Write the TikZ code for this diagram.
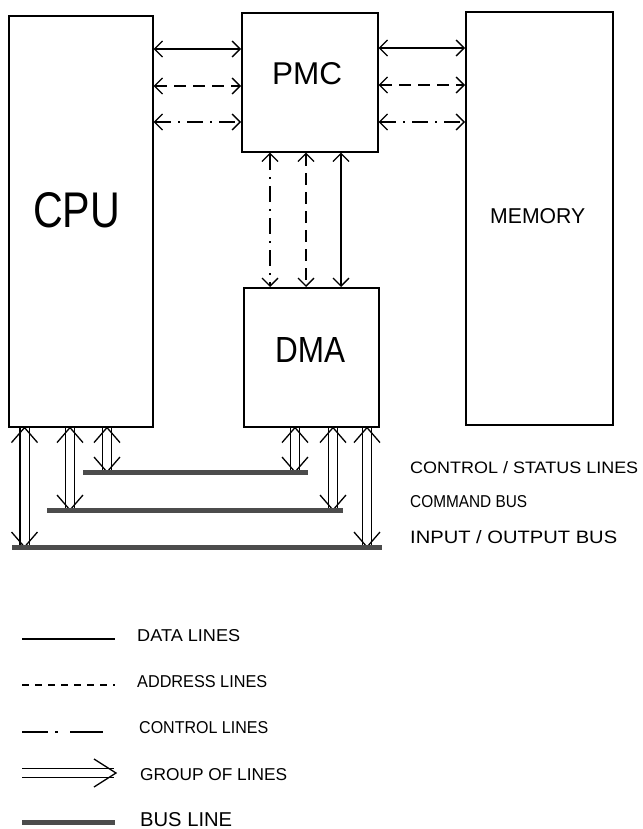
\documentclass[tikz,border=0pt]{standalone}
\usepackage{fontspec}
\setmainfont{Liberation Sans}
\usepackage{graphicx}
\usetikzlibrary{arrows.meta,calc}
\newcommand{\fitlbl}[3]{\resizebox{#1pt}{#2pt}{#3}}
\newcommand{\grouparrow}[2]{%
  \draw[grp] (#1) -- (#2);
  \draw[chev] ($(#1)+(-13,15)$) -- (#1) -- ($(#1)+(13,15)$);
  \draw[chev] ($(#2)+(-13,-15)$) -- (#2) -- ($(#2)+(13,-15)$);
}
\begin{document}
\begin{tikzpicture}[x=1pt,y=-1pt,
  box/.style={draw, line width=1.6pt, inner sep=0pt, anchor=north west},
  lbl/.style={inner sep=0pt, anchor=base west},
  tip/.style={{Straight Barb[length=8pt,width=16pt]}-{Straight Barb[length=8pt,width=16pt]}},
  dataline/.style={tip, line width=1.3pt},
  addrline/.style={tip, line width=1.3pt, dash pattern=on 12pt off 7pt},
  ctrlline/.style={tip, line width=1.3pt, dash pattern=on 16pt off 7pt on 2pt off 7pt},
  busline/.style={line width=5pt, black!70},
  grp/.style={double, double distance=8pt, line width=1.3pt},
  chev/.style={line width=1.3pt}
]
\useasboundingbox (0,0) rectangle (642,829);

% boxes
\node[box, minimum width=144pt, minimum height=411pt] (cpu) at (8,15) {};
\node[box, minimum width=136pt, minimum height=139pt] (pmc) at (241,12) {};
\node[box, minimum width=135pt, minimum height=139pt] (dma) at (243,287) {};
\node[box, minimum width=147pt, minimum height=413pt] (mem) at (465,11) {};

% box labels
\node[lbl] (cpulbl) at (33,227) {\fitlbl{87}{35}{CPU}};
\node[lbl] (pmclbl) at (272,85) {\fitlbl{70}{22}{PMC}};
\node[lbl] (dmalbl) at (275,362) {\fitlbl{70}{25}{DMA}};
\node[lbl] (memlbl) at (490,223) {\fitlbl{95}{15}{MEMORY}};

% CPU <-> PMC
\draw[dataline] (cpu.east |- 0,49) -- (pmc.west |- 0,49);
\draw[addrline] (cpu.east |- 0,86) -- (pmc.west |- 0,86);
\draw[ctrlline] (cpu.east |- 0,122) -- (pmc.west |- 0,122);
% PMC <-> MEMORY
\draw[dataline] (pmc.east |- 0,48) -- (mem.west |- 0,48);
\draw[addrline] (pmc.east |- 0,85) -- (mem.west |- 0,85);
\draw[ctrlline] (pmc.east |- 0,122) -- (mem.west |- 0,122);
% PMC <-> DMA
\draw[ctrlline] (pmc.south -| 270,0) -- (dma.north -| 270,0);
\draw[addrline] (pmc.south -| 306,0) -- (dma.north -| 306,0);
\draw[dataline] (pmc.south -| 341,0) -- (dma.north -| 341,0);

% bus lines
\coordinate (b1l) at (83,472);  \coordinate (b1r) at (308,472);
\coordinate (b2l) at (47,510);  \coordinate (b2r) at (343,510);
\coordinate (b3l) at (12,547);  \coordinate (b3r) at (382,547);

% groups of lines
\coordinate (gAt) at (cpu.south -| 24.5,0); \coordinate (gAb) at (b3l -| 24.5,0);
\coordinate (gBt) at (cpu.south -| 70,0);   \coordinate (gBb) at (b2l -| 70,0);
\coordinate (gCt) at (cpu.south -| 107,0);  \coordinate (gCb) at (b1l -| 107,0);
\coordinate (gDt) at (dma.south -| 295,0);  \coordinate (gDb) at (b1l -| 295,0);
\coordinate (gEt) at (dma.south -| 333,0);  \coordinate (gEb) at (b2l -| 333,0);
\coordinate (gFt) at (dma.south -| 367,0);  \coordinate (gFb) at (b3l -| 367,0);
\grouparrow{gAt}{gAb}
\grouparrow{gBt}{gBb}
\grouparrow{gCt}{gCb}
\grouparrow{gDt}{gDb}
\grouparrow{gEt}{gEb}
\grouparrow{gFt}{gFb}

\draw[busline] (b1l) -- (b1r);
\draw[busline] (b2l) -- (b2r);
\draw[busline] (b3l) -- (b3r);

% bus labels
\node[lbl] (t1) at (410,473) {\fitlbl{228}{12}{CONTROL / STATUS LINES}};
\node[lbl] (t2) at (410,507) {\fitlbl{117}{12}{COMMAND BUS}};
\node[lbl] (t3) at (410,543) {\fitlbl{207}{13}{INPUT / OUTPUT BUS}};

% legend
\coordinate (l1a) at (22,639); \coordinate (l1b) at (115,639);
\draw[line width=1.3pt] (l1a) -- (l1b);
\coordinate (l2a) at (22,685); \coordinate (l2b) at (115,685);
\draw[line width=1.3pt, dash pattern=on 7pt off 6pt] (l2a) -- (l2b);
\coordinate (l3a) at (22,732); \coordinate (l3b) at (103,732);
\draw[line width=1.3pt, dash pattern=on 26pt off 7pt on 3pt off 12pt on 33pt off 0pt] (l3a) -- (l3b);
\coordinate (l4a) at (22,773); \coordinate (l4b) at (114,773);
\draw[grp] (l4a) -- (l4b);
\draw[chev] ($(l4b)+(-20,-14)$) -- ($(l4b)+(2,0)$) -- ($(l4b)+(-20,14)$);
\coordinate (l5a) at (22,822); \coordinate (l5b) at (115,822);
\draw[busline] (l5a) -- (l5b);

\node[lbl] (d1) at (137,641) {\fitlbl{103}{12}{DATA LINES}};
\node[lbl] (d2) at (137,687) {\fitlbl{130}{12}{ADDRESS LINES}};
\node[lbl] (d3) at (139,733) {\fitlbl{129}{12}{CONTROL LINES}};
\node[lbl] (d4) at (140,780) {\fitlbl{147}{12}{GROUP OF LINES}};
\node[lbl] (d5) at (140,826) {\fitlbl{92}{14}{BUS LINE}};
\end{tikzpicture}
\end{document}
